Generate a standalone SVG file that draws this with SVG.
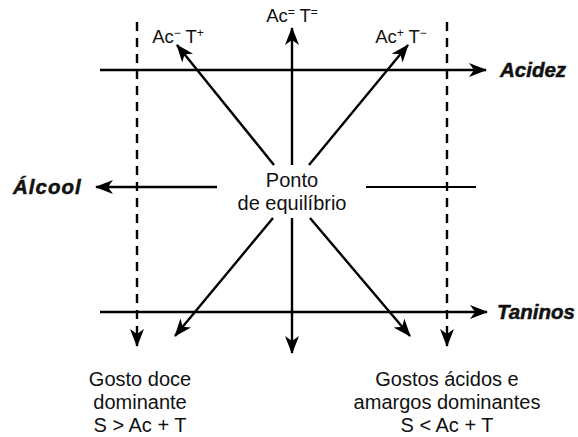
<svg xmlns="http://www.w3.org/2000/svg" width="578" height="437" viewBox="0 0 578 437">
<defs>
<marker id="ah" viewBox="0 0 18 14" refX="17" refY="7" markerWidth="18" markerHeight="14" markerUnits="userSpaceOnUse" orient="auto">
<path d="M0,0 L18,7 L0,14 L5,7 Z" fill="#000"/>
</marker>
<style>
.ln{stroke:#000;stroke-width:2.2;fill:none}
.ar{stroke:#000;stroke-width:2.4;fill:none;marker-end:url(#ah)}
.ds{stroke:#000;stroke-width:2.4;fill:none;stroke-dasharray:9 7;marker-end:url(#ah)}
.t{font-family:"Liberation Sans",Arial,sans-serif;font-size:20px;fill:#111}
.tt{font-family:"Liberation Sans",Arial,sans-serif;font-size:18.5px;fill:#111}
.ax{font-family:"Liberation Sans",Arial,sans-serif;font-size:20.5px;font-weight:bold;font-style:italic;fill:#111;stroke:#111;stroke-width:0.5}
.sup{font-size:12px}
</style>
</defs>
<rect width="578" height="437" fill="#fff"/>
<g id="connectors">
<line class="ds" x1="137" y1="22" x2="137" y2="346"/>
<line class="ds" x1="447" y1="22" x2="447" y2="346"/>
<line class="ar" x1="100" y1="70" x2="486" y2="70"/>
<line class="ar" x1="100" y1="312" x2="487" y2="312"/>
<line class="ar" x1="217" y1="187" x2="96" y2="187"/>
<line class="ln" x1="366" y1="187" x2="476" y2="187"/>
<line class="ar" x1="292" y1="165" x2="292" y2="28"/>
<line class="ar" x1="274" y1="165" x2="177" y2="45"/>
<line class="ar" x1="309" y1="165" x2="408" y2="45"/>
<line class="ar" x1="292" y1="218" x2="292" y2="353"/>
<line class="ar" x1="273" y1="218" x2="175" y2="336"/>
<line class="ar" x1="310" y1="218" x2="410" y2="336"/>
</g>
<g id="center">
<text class="t" x="292" y="187" text-anchor="middle">Ponto</text>
<text class="t" x="292" y="210" text-anchor="middle">de equilíbrio</text>
</g>
<g id="top-labels">
<text class="tt" x="292" y="22" text-anchor="middle">Ac<tspan class="sup" dy="-6">=</tspan><tspan dy="6"> T</tspan><tspan class="sup" dy="-6">=</tspan></text>
<text class="tt" x="178" y="43" text-anchor="middle">Ac<tspan class="sup" dy="-6">−</tspan><tspan dy="6"> T</tspan><tspan class="sup" dy="-6">+</tspan></text>
<text class="tt" x="401" y="43" text-anchor="middle">Ac<tspan class="sup" dy="-6">+</tspan><tspan dy="6"> T</tspan><tspan class="sup" dy="-6">−</tspan></text>
</g>
<g id="axis-labels">
<text class="ax" x="500" y="77">Acidez</text>
<text class="ax" x="13" y="194" letter-spacing="1">Álcool</text>
<text class="ax" x="497" y="319">Taninos</text>
</g>
<g id="bottom-left">
<text class="t" x="140" y="386" text-anchor="middle">Gosto doce</text>
<text class="t" x="140" y="409" text-anchor="middle">dominante</text>
<text class="t" x="140" y="432" text-anchor="middle">S &gt; Ac + T</text>
</g>
<g id="bottom-right">
<text class="t" x="447" y="386" text-anchor="middle">Gostos ácidos e</text>
<text class="t" x="447" y="409" text-anchor="middle">amargos dominantes</text>
<text class="t" x="447" y="432" text-anchor="middle">S &lt; Ac + T</text>
</g>
</svg>
